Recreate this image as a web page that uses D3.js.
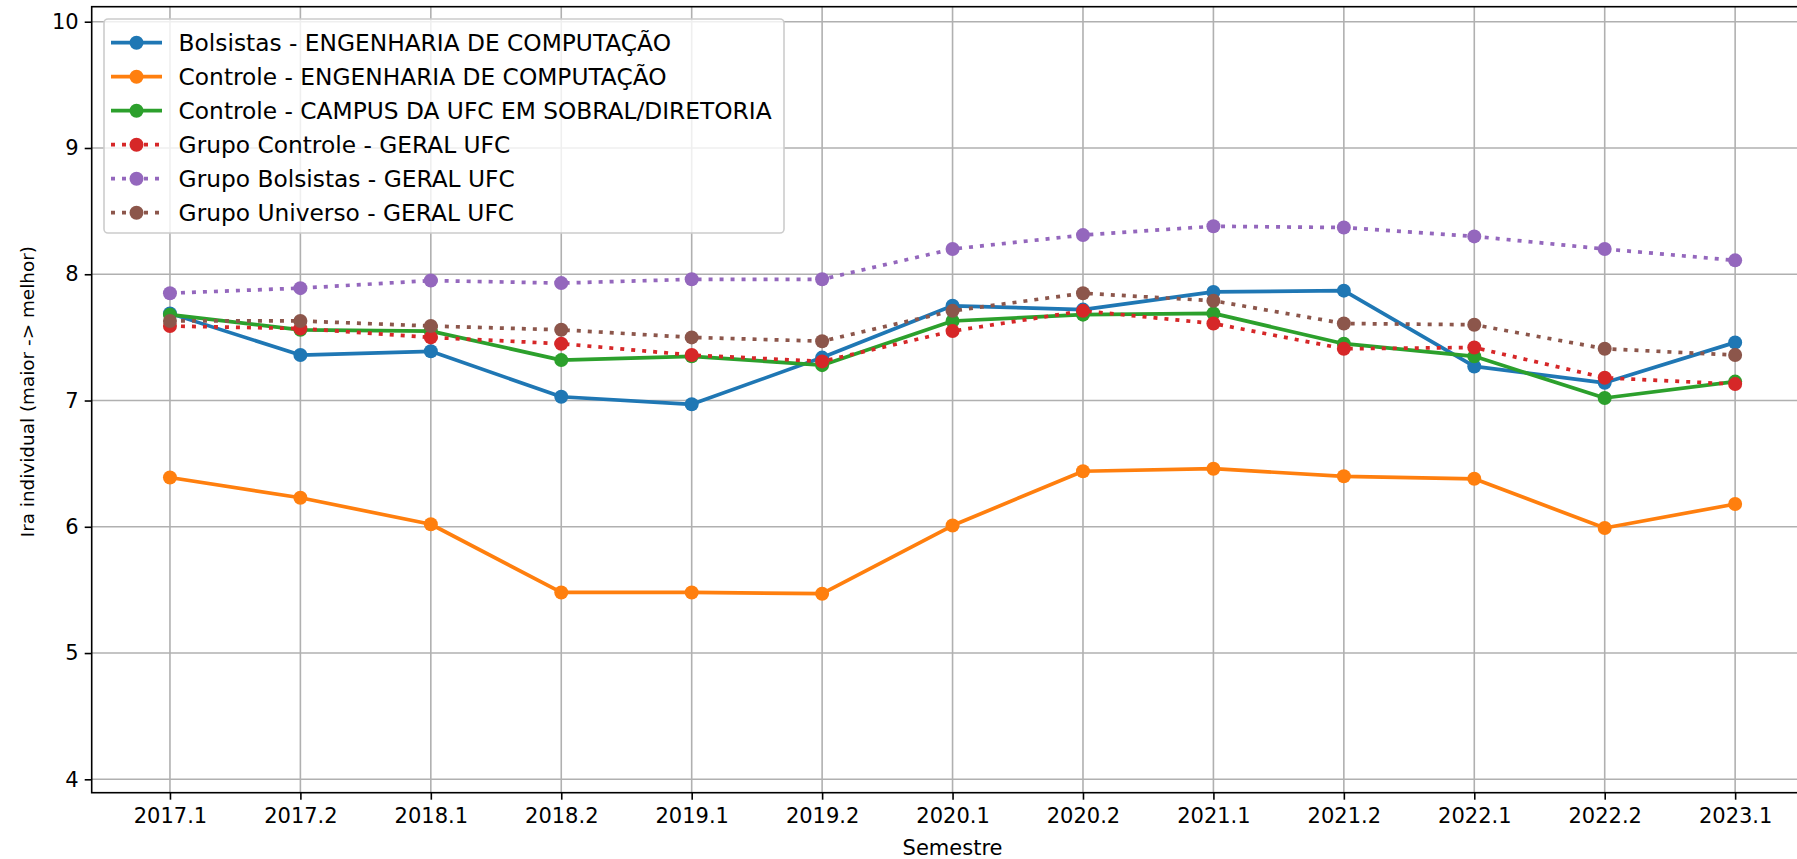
<!DOCTYPE html>
<html>
<head>
<meta charset="utf-8">
<script src="https://cdn.jsdelivr.net/npm/d3@7"></script>
<style>
  body { margin: 0; background: #fff; }
  text { font-family: "DejaVu Sans", sans-serif; fill: #000; }
</style>
</head>
<body>
<div id="chart"></div>
<script>
// DATA
const semesters = ["2017.1","2017.2","2018.1","2018.2","2019.1","2019.2","2020.1","2020.2","2021.1","2021.2","2022.1","2022.2","2023.1"];

const bolsistasEng = [7.69, 7.36, 7.39, 7.03, 6.97, 7.34, 7.75, 7.72, 7.86, 7.87, 7.27, 7.14, 7.46];
const controleEng = [6.39, 6.23, 6.02, 5.48, 5.48, 5.47, 6.01, 6.44, 6.46, 6.40, 6.38, 5.99, 6.18];
const controleSobral = [7.68, 7.56, 7.55, 7.32, 7.35, 7.28, 7.63, 7.68, 7.69, 7.45, 7.35, 7.02, 7.15];
const grupoControle = [7.59, 7.57, 7.50, 7.45, 7.36, 7.31, 7.55, 7.71, 7.61, 7.41, 7.42, 7.18, 7.13];
const grupoBolsistas = [7.85, 7.89, 7.95, 7.93, 7.96, 7.96, 8.20, 8.31, 8.38, 8.37, 8.30, 8.20, 8.11];
const grupoUniverso = [7.63, 7.63, 7.59, 7.56, 7.50, 7.47, 7.71, 7.85, 7.79, 7.61, 7.60, 7.41, 7.36];

const yTicks = [4, 5, 6, 7, 8, 9, 10];

const series = [
  {label: "Bolsistas - ENGENHARIA DE COMPUTAÇÃO", values: bolsistasEng, color: "#1f77b4", dotted: false},
  {label: "Controle - ENGENHARIA DE COMPUTAÇÃO", values: controleEng, color: "#ff7f0e", dotted: false},
  {label: "Controle - CAMPUS DA UFC EM SOBRAL/DIRETORIA", values: controleSobral, color: "#2ca02c", dotted: false},
  {label: "Grupo Controle - GERAL UFC", values: grupoControle, color: "#d62728", dotted: true},
  {label: "Grupo Bolsistas - GERAL UFC", values: grupoBolsistas, color: "#9467bd", dotted: true},
  {label: "Grupo Universo - GERAL UFC", values: grupoUniverso, color: "#8c564b", dotted: true}
];

// CHART CODE
const svgWidth = 1797;
const svgHeight = 859;

// plot area (right edge runs past the picture)
const plot = {left: 91.7, right: 1813.4, top: 6.7, bottom: 792.7};

const lineWidth = 3.7;
const markerR = 7;
const fontSize = 21;

const svg = d3.select("#chart")
  .append("svg")
  .attr("width", svgWidth)
  .attr("height", svgHeight);

// Scales
const xScale = d3.scalePoint()
  .domain(semesters)
  .range([plot.left, plot.right])
  .padding(0.6);

const yScale = d3.scaleLinear()
  .domain([3.894, 10.119])
  .range([plot.bottom, plot.top]);

svg.append("defs").append("clipPath")
  .attr("id", "plot-clip")
  .append("rect")
  .attr("x", plot.left)
  .attr("y", plot.top)
  .attr("width", plot.right - plot.left)
  .attr("height", plot.bottom - plot.top);

// Grid
const grid = svg.append("g").attr("clip-path", "url(#plot-clip)");
grid.selectAll("line.gx")
  .data(semesters)
  .enter()
  .append("line")
  .attr("x1", d => xScale(d))
  .attr("x2", d => xScale(d))
  .attr("y1", plot.top)
  .attr("y2", plot.bottom)
  .attr("stroke", "#b0b0b0")
  .attr("stroke-width", 1.6);

grid.selectAll("line.gy")
  .data(yTicks)
  .enter()
  .append("line")
  .attr("x1", plot.left)
  .attr("x2", plot.right)
  .attr("y1", d => yScale(d))
  .attr("y2", d => yScale(d))
  .attr("stroke", "#b0b0b0")
  .attr("stroke-width", 1.6);

// Lines + markers
const line = d3.line()
  .x((d, i) => xScale(semesters[i]))
  .y(d => yScale(d));

const marks = svg.append("g").attr("clip-path", "url(#plot-clip)");
series.forEach(s => {
  marks.append("path")
    .datum(s.values)
    .attr("d", line)
    .attr("fill", "none")
    .attr("stroke", s.color)
    .attr("stroke-width", lineWidth)
    .attr("stroke-linejoin", "round")
    .attr("stroke-linecap", s.dotted ? "butt" : "square")
    .attr("stroke-dasharray", s.dotted ? "4,7" : null);

  marks.selectAll(null)
    .data(s.values)
    .enter()
    .append("circle")
    .attr("cx", (d, i) => xScale(semesters[i]))
    .attr("cy", d => yScale(d))
    .attr("r", markerR)
    .attr("fill", s.color);
});

// Axes
const xAxis = d3.axisBottom(xScale).tickSize(7).tickPadding(8);
const yAxis = d3.axisLeft(yScale)
  .tickValues(yTicks)
  .tickFormat(d3.format("d"))
  .tickSize(7)
  .tickPadding(6);

const xAxisGroup = svg.append("g")
  .attr("transform", `translate(0, ${plot.bottom})`)
  .call(xAxis);

const yAxisGroup = svg.append("g")
  .attr("transform", `translate(${plot.left}, 0)`)
  .call(yAxis);

[xAxisGroup, yAxisGroup].forEach(g => {
  g.select(".domain").remove();
  g.selectAll(".tick line").attr("stroke", "#000").attr("stroke-width", 1.6);
  g.selectAll(".tick text")
    .attr("font-size", fontSize)
    .attr("font-family", "DejaVu Sans")
    .attr("fill", "#000");
});

// Spines
svg.append("rect")
  .attr("x", plot.left)
  .attr("y", plot.top)
  .attr("width", plot.right - plot.left)
  .attr("height", plot.bottom - plot.top)
  .attr("fill", "none")
  .attr("stroke", "#000")
  .attr("stroke-width", 1.6);

// Axis labels
svg.append("text")
  .attr("x", (plot.left + plot.right) / 2)
  .attr("y", 848)
  .attr("dy", "0.35em")
  .attr("text-anchor", "middle")
  .attr("font-size", fontSize)
  .text("Semestre");

svg.append("text")
  .attr("transform", `translate(28, ${(plot.top + plot.bottom) / 2 - 8})rotate(-90)`)
  .attr("dy", "0.35em")
  .attr("text-anchor", "middle")
  .attr("font-size", 18.4)
  .text("Ira individual (maior -> melhor)");

// Legend
const legend = svg.append("g");
legend.append("rect")
  .attr("x", 104)
  .attr("y", 19)
  .attr("width", 680)
  .attr("height", 214)
  .attr("rx", 4)
  .attr("fill", "#fff")
  .attr("fill-opacity", 0.8)
  .attr("stroke", "#cccccc")
  .attr("stroke-width", 1.6);

const rowStart = 42.7;
const rowStep = 34;

const legendRows = legend.selectAll("g.row")
  .data(series)
  .enter()
  .append("g")
  .attr("transform", (d, i) => `translate(0, ${rowStart + i * rowStep})`);

legendRows.append("line")
  .attr("x1", 111)
  .attr("x2", 162)
  .attr("stroke", d => d.color)
  .attr("stroke-width", lineWidth)
  .attr("stroke-dasharray", d => d.dotted ? "4,7" : null);

legendRows.append("circle")
  .attr("cx", 136.5)
  .attr("r", markerR)
  .attr("fill", d => d.color);

legendRows.append("text")
  .attr("x", 178.6)
  .attr("dy", "0.35em")
  .attr("font-size", 23.3)
  .text(d => d.label);
</script>
</body>
</html>
